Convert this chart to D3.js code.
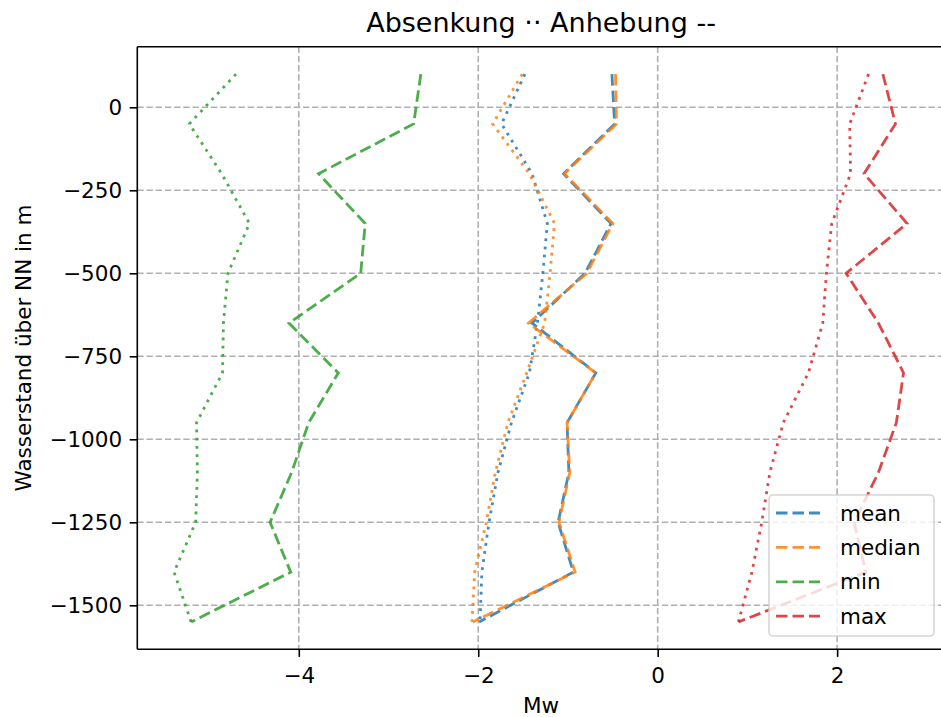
<!DOCTYPE html>
<html>
<head>
<meta charset="utf-8">
<script src="https://cdn.jsdelivr.net/npm/d3@7"></script>
<style>
  html, body { margin: 0; padding: 0; background: #fff; }
  svg { display: block; font-family: "DejaVu Sans", sans-serif; }
</style>
</head>
<body>
<svg id="chart" width="941" height="717"></svg>
<script>
// ---- data ----
const depth = [100, -50, -200, -350, -500, -650, -800, -950, -1100, -1250, -1400, -1550];

const meanAbsenkung   = [-1.48, -1.74, -1.40, -1.23, -1.28, -1.34, -1.43, -1.63, -1.78, -1.88, -1.96, -1.98];
const meanAnhebung    = [-0.51, -0.48, -1.05, -0.52, -0.81, -1.40, -0.69, -1.01, -0.99, -1.11, -0.94, -1.99];
const medianAbsenkung = [-1.51, -1.84, -1.43, -1.15, -1.20, -1.26, -1.46, -1.67, -1.81, -1.91, -2.04, -2.07];
const medianAnhebung  = [-0.47, -0.46, -1.04, -0.50, -0.79, -1.44, -0.69, -1.01, -0.98, -1.10, -0.92, -2.06];
const minAbsenkung    = [-4.70, -5.22, -4.86, -4.55, -4.79, -4.84, -4.85, -5.14, -5.13, -5.15, -5.39, -5.20];
const minAnhebung     = [-2.64, -2.72, -3.78, -3.26, -3.31, -4.11, -3.56, -3.89, -4.08, -4.32, -4.09, -5.20];
const maxAbsenkung    = [2.35, 2.14, 2.15, 1.94, 1.88, 1.84, 1.68, 1.40, 1.25, 1.16, 1.05, 0.90];
const maxAnhebung     = [2.51, 2.65, 2.30, 2.78, 2.10, 2.46, 2.74, 2.66, 2.46, 2.19, 2.32, 0.90];

const seriesNames = ["mean", "median", "min", "max"];
const seriesColors = ["#1f77b4", "#ff7f0e", "#2ca02c", "#d62728"];
const absenkung = [meanAbsenkung, medianAbsenkung, minAbsenkung, maxAbsenkung];
const anhebung = [meanAnhebung, medianAnhebung, minAnhebung, maxAnhebung];

const xTicks = [-4, -2, 0, 2];
const yTicks = [0, -250, -500, -750, -1000, -1250, -1500];

const titleText = "Absenkung \u00B7\u00B7 Anhebung --";
const xLabel = "Mw";
const yLabel = "Wasserstand über NN in m";

// ---- layout ----
const svg = d3.select("#chart");
const L = 137.3, R = 944.8, T = 46.7, B = 649.3;
const x = d3.scaleLinear().domain([-5.8, 3.2]).range([L, R]);
const y = d3.scaleLinear().domain([182.5, -1632.5]).range([T, B]);

const fs = 21.5;
const lw = 2.8;
const dashed = "11.5,5";
const dotted = "2.8,5.4";

svg.append("rect").attr("width", 941).attr("height", 717).attr("fill", "#fff");

// grid
const grid = svg.append("g");
grid.selectAll("line.gx").data(xTicks).join("line")
  .attr("x1", d => x(d)).attr("x2", d => x(d)).attr("y1", T).attr("y2", B)
  .attr("stroke", "#b0b0b0").attr("stroke-width", 1.6).attr("stroke-dasharray", "6.4,2.8");
grid.selectAll("line.gy").data(yTicks).join("line")
  .attr("y1", d => y(d)).attr("y2", d => y(d)).attr("x1", L).attr("x2", R)
  .attr("stroke", "#b0b0b0").attr("stroke-width", 1.6).attr("stroke-dasharray", "6.4,2.8");

// lines
const line = d3.line().x(d => x(d[0])).y(d => y(d[1]));
const plot = svg.append("g");
seriesNames.forEach((name, i) => {
  plot.append("path")
    .attr("d", line(absenkung[i].map((v, k) => [v, depth[k]])))
    .attr("fill", "none").attr("stroke", seriesColors[i]).attr("stroke-opacity", 0.85)
    .attr("stroke-width", lw).attr("stroke-dasharray", dotted);
  plot.append("path")
    .attr("d", line(anhebung[i].map((v, k) => [v, depth[k]])))
    .attr("fill", "none").attr("stroke", seriesColors[i]).attr("stroke-opacity", 0.85)
    .attr("stroke-width", lw).attr("stroke-dasharray", dashed);
});

// axes
const fmt = d3.format("d");
const xAxis = d3.axisBottom(x).tickValues(xTicks).tickFormat(fmt).tickSize(7.6).tickPadding(11).tickSizeOuter(0);
const yAxis = d3.axisLeft(y).tickValues(yTicks).tickFormat(fmt).tickSize(7.6).tickPadding(7.6).tickSizeOuter(0);
const gx = svg.append("g").attr("transform", `translate(0,${B})`).call(xAxis);
const gy = svg.append("g").attr("transform", `translate(${L},0)`).call(yAxis);
[gx, gy].forEach(g => {
  g.select(".domain").remove();
  g.selectAll(".tick line").attr("stroke", "#000").attr("stroke-width", 1.6);
  g.selectAll(".tick text").attr("font-size", fs).attr("font-family", "DejaVu Sans").attr("fill", "#000");
});
// spines
const spine = (x1, y1, x2, y2) => svg.append("line").attr("x1", x1).attr("y1", y1).attr("x2", x2).attr("y2", y2)
  .attr("stroke", "#000").attr("stroke-width", 1.6);
spine(L, T, L, B); spine(L, B, R, B); spine(L, T, R, T); spine(R, T, R, B);

// labels
svg.append("text").attr("x", (L + R) / 2).attr("y", 32).attr("text-anchor", "middle")
  .attr("font-size", 27).attr("fill", "#000").text(titleText);
svg.append("text").attr("x", (L + R) / 2).attr("y", 713).attr("text-anchor", "middle")
  .attr("font-size", fs).attr("fill", "#000").text(xLabel);
svg.append("text").attr("transform", `translate(31,${(T + B) / 2}) rotate(-90)`).attr("text-anchor", "middle")
  .attr("font-size", fs).attr("fill", "#000").text(yLabel);

// legend
const lg = svg.append("g");
const lx = 769, ly = 495, lwid = 165, lh = 141;
lg.append("rect").attr("x", lx).attr("y", ly).attr("width", lwid).attr("height", lh).attr("rx", 4)
  .attr("fill", "#fff").attr("fill-opacity", 0.8).attr("stroke", "#cccccc").attr("stroke-opacity", 0.8).attr("stroke-width", 1.6);
seriesNames.forEach((name, i) => {
  const cy = 513 + i * 34.4;
  lg.append("line").attr("x1", 776).attr("x2", 820).attr("y1", cy).attr("y2", cy)
    .attr("stroke", seriesColors[i]).attr("stroke-opacity", 0.85).attr("stroke-width", lw).attr("stroke-dasharray", dashed);
  lg.append("text").attr("x", 840).attr("y", cy).attr("dy", "0.35em")
    .attr("font-size", fs).attr("fill", "#000").text(name);
});
</script>
</body>
</html>
